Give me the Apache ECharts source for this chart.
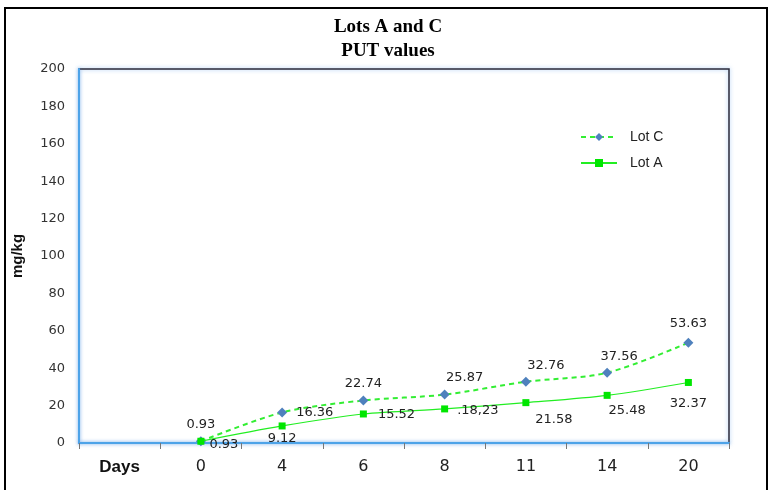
<!DOCTYPE html>
<html>
<head>
<meta charset="utf-8">
<script src="https://cdn.jsdelivr.net/npm/echarts@6/dist/echarts.min.js"></script>
<style>
html,body{margin:0;padding:0;background:#fff;}
#c{width:776px;height:490px;}
</style>
</head>
<body>
<div id="c"></div>
<script>
var categories = ['Days', '0', '4', '6', '8', '11', '14', '20'];
var lotC = [null, 0.93, 16.36, 22.74, 25.87, 32.76, 37.56, 53.63];
var lotA = [null, 0.93, 9.12, 15.52, 18.23, 21.58, 25.48, 32.37];
var lotCLabels = ['', '0.93', '16.36', '22.74', '25.87', '32.76', '37.56', '53.63'];
var lotALabels = ['', '0.93', '9.12', '15.52', '.18,23', '21.58', '25.48', '32.37'];
var yTicks = [0, 20, 40, 60, 80, 100, 120, 140, 160, 180, 200];

// label placement (style only)
var placeC = [null, ['top', [0, 0]], ['right', [4, 0]], ['top', [0, 0]], ['top', [20, 0]], ['top', [20, 0]], ['top', [12, 0]], ['top', [0, -3]]];
var placeA = [null, ['right', [0, 3]], ['bottom', [0, -2]], ['right', [6, 1]], ['right', [4, 2]], ['bottom', [28, 2]], ['bottom', [20, 0]], ['bottom', [0, 6]]];

function build(vals, labels, place) {
  return vals.map(function (v, i) {
    if (v === null) return null;
    var p = place[i];
    return {
      value: v,
      label: { show: true, position: p[0], offset: p[1], formatter: labels[i] }
    };
  });
}

var chart = echarts.init(document.getElementById('c'));
chart.setOption({
  animation: false,
  backgroundColor: '#fff',
  graphic: [{
    type: 'rect',
    shape: { x: 5, y: 8, width: 762, height: 500 },
    style: { fill: 'none', stroke: '#000', lineWidth: 2 },
    silent: true
  }],
  title: {
    text: 'Lots A and C\nPUT values',
    left: 'center',
    top: 10,
    textStyle: {
      fontFamily: 'Liberation Serif',
      fontWeight: 'bold',
      fontSize: 19,
      lineHeight: 24,
      color: '#000'
    }
  },
  grid: {
    left: 79, right: 47, top: 69, bottom: 47,
    show: true,
    borderColor: '#2a2a3a',
    borderWidth: 1.5,
    backgroundColor: 'transparent',
    shadowColor: 'rgba(80,150,230,0.6)',
    shadowBlur: 4
  },
  legend: {
    orient: 'vertical',
    left: 575,
    top: 125,
    itemWidth: 36,
    itemHeight: 10,
    itemGap: 12,
    textStyle: { fontFamily: 'Liberation Sans', fontSize: 14, color: '#222', padding: [0, 0, 4, 8] },
    data: ['Lot C', 'Lot A']
  },
  xAxis: {
    type: 'category',
    data: categories,
    boundaryGap: true,
    axisLine: { lineStyle: { color: '#4da3e8', width: 2, shadowColor: 'rgba(80,150,230,0.5)', shadowBlur: 3 } },
    axisTick: { show: true, length: 6, lineStyle: { color: '#777' }, alignWithLabel: false },
    axisLabel: {
      interval: 0,
      margin: 16,
      fontFamily: 'DejaVu Sans',
      fontSize: 16,
      color: '#222',
      formatter: function (v) { return v === 'Days' ? '{b|' + v + '}' : v; },
      rich: { b: { fontWeight: 'bold', fontSize: 17, fontFamily: 'Liberation Sans', color: '#111' } }
    },
    splitLine: { show: false }
  },
  yAxis: {
    type: 'value',
    min: 0, max: 200, interval: 20,
    name: 'mg/kg',
    nameLocation: 'middle',
    nameGap: 54,
    nameTextStyle: { fontFamily: 'Liberation Sans', fontWeight: 'bold', fontSize: 15, color: '#111' },
    axisLine: { show: true, lineStyle: { color: '#4da3e8', width: 2, shadowColor: 'rgba(80,150,230,0.5)', shadowBlur: 3 } },
    axisTick: { show: false },
    axisLabel: {
      margin: 14,
      fontFamily: 'DejaVu Sans',
      fontSize: 13,
      color: '#333',
      formatter: function (v) { return yTicks.indexOf(v) >= 0 ? String(v) : ''; }
    },
    splitLine: { show: false }
  },
  series: [
    {
      name: 'Lot C',
      type: 'line',
      smooth: 0.3,
      data: build(lotC, lotCLabels, placeC),
      symbol: 'diamond',
      symbolSize: 10,
      lineStyle: { color: '#33ee33', width: 2, type: [5, 4] },
      itemStyle: { color: '#4f81bd' },
      label: { fontFamily: 'DejaVu Sans', fontSize: 13, color: '#222' },
      z: 3
    },
    {
      name: 'Lot A',
      type: 'line',
      smooth: 0.3,
      data: build(lotA, lotALabels, placeA),
      symbol: 'rect',
      symbolSize: 7,
      lineStyle: { color: '#22ee22', width: 1.2 },
      itemStyle: { color: '#00e600' },
      label: { fontFamily: 'DejaVu Sans', fontSize: 13, color: '#222' },
      z: 4
    }
  ]
});
</script>
</body>
</html>
